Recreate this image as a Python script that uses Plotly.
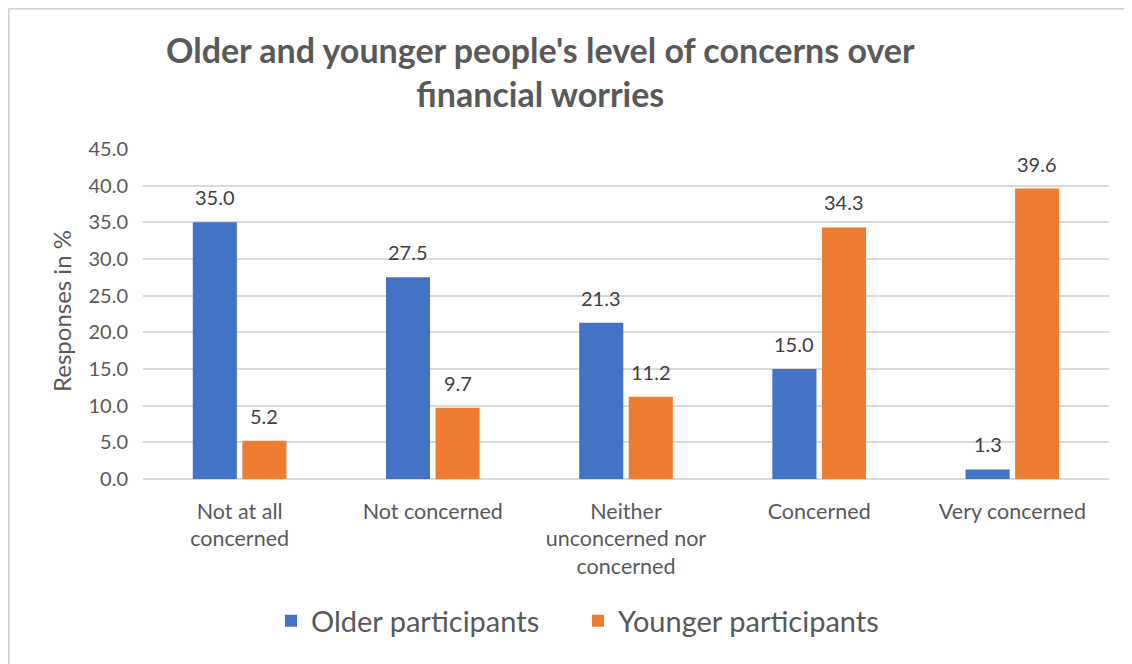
import plotly.graph_objects as go

categories = ["Not at all<br>concerned", "Not concerned", "Neither<br>unconcerned nor<br>concerned", "Concerned", "Very concerned"]
older = [35.0, 27.5, 21.3, 15.0, 1.3]
younger = [5.2, 9.7, 11.2, 34.3, 39.6]
series_names = ["Older participants", "Younger participants"]
colors = ["#4472C4", "#ED7D31"]
y_ticks = [0, 5, 10, 15, 20, 25, 30, 35, 40, 45]

FONT = "Lato"
W, H = 1132, 664
OFF = 8  # page body offset
ML, MR, MT, MB = 143 - OFF, 23 + OFF, 149 - OFF, 185 + OFF
PW = W - ML - MR
PH = H - MT - MB

fig = go.Figure()
for name, vals, col in zip(series_names, [older, younger], colors):
    fig.add_trace(go.Bar(x=categories, y=vals, name=name, marker_color=col,
                         marker_line_width=0))

# data labels
slot = PW / len(categories) * (1 - 0.487) / 2
for i, vals in enumerate([older, younger]):
    shift = (-0.5 if i == 0 else 0.5) * slot
    for c, v in zip(categories, vals):
        fig.add_annotation(x=c, y=v, text=f"{v:.1f}", showarrow=False, xshift=shift,
                           yshift=25, yanchor="middle",
                           font=dict(family=FONT, size=20, color="#404040"))

def px_x(p):
    return (p - OFF - ML) / PW

def px_y(p):
    return (H - MB - (p - OFF)) / PH

# title
fig.add_annotation(xref="paper", yref="paper", x=px_x(540), y=px_y(72), yanchor="middle",
                   xanchor="center", showarrow=False,
                   text="<b>Older and younger people's level of concerns over<br>financial worries</b>",
                   font=dict(family=FONT, size=34, color="#595959"))

# y axis title
fig.add_annotation(xref="paper", yref="paper", x=px_x(61), y=px_y(311), textangle=-90,
                   showarrow=False, xanchor="center", yanchor="middle",
                   text="Responses in %", font=dict(family=FONT, size=24, color="#595959"))

# border lines (left and top)
fig.add_shape(type="line", xref="paper", yref="paper", x0=px_x(8.5), x1=px_x(8.5),
              y0=px_y(8.5), y1=px_y(700), line=dict(color="#d0d0d0", width=2))
fig.add_shape(type="line", xref="paper", yref="paper", x0=px_x(8.5), x1=px_x(1140),
              y0=px_y(8.5), y1=px_y(8.5), line=dict(color="#d0d0d0", width=2))

fig.update_layout(
    width=W, height=H,
    margin=dict(l=ML, r=MR, t=MT, b=MB, autoexpand=False),
    paper_bgcolor="white", plot_bgcolor="white",
    barmode="group", bargap=0.487, bargroupgap=0.11,
    showlegend=True,
    legend=dict(orientation="h", x=px_x(578), y=px_y(621), xanchor="center", yanchor="middle",
                font=dict(family=FONT, size=29, color="#595959"), itemwidth=30,
                entrywidth=262, entrywidthmode="pixels",
                traceorder="normal"),
    font=dict(family=FONT, color="#595959"),
)
fig.update_xaxes(showgrid=False, showline=False, ticks="", tickfont=dict(family=FONT, size=21.5, color="#595959"),
                 ticklabelstandoff=17)
fig.update_yaxes(range=[0, 45], tickvals=y_ticks, ticktext=[f"{t:.1f}" for t in y_ticks],
                 showgrid=True, gridcolor="#d9d9d9", gridwidth=1.5, zeroline=True,
                 zerolinecolor="#d9d9d9", zerolinewidth=1.5, showline=False, ticks="",
                 tickfont=dict(family=FONT, size=20, color="#595959"), ticklabelstandoff=14)

fig.write_html("out.html")
